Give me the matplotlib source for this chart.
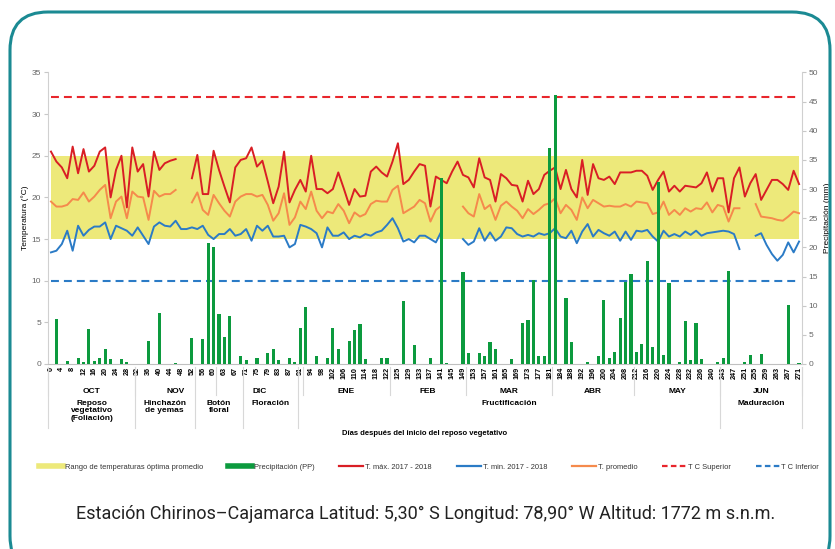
import numpy as np
import matplotlib.pyplot as plt
from matplotlib.lines import Line2D
from matplotlib.patches import FancyBboxPatch

plt.rcParams['font.family'] = ['Liberation Sans', 'DejaVu Sans']

nan = np.nan

# etiquetas del eje x (días después del inicio del reposo vegetativo)
dias = [0, 4, 8, 12, 16, 20, 24, 28, 32, 36, 40, 44, 48, 52, 56, 60, 63, 67, 71, 75,
        79, 83, 87, 91, 94, 98, 102, 106, 110, 114, 118, 122, 125, 129, 133, 137, 141, 145, 149, 153,
        157, 161, 165, 169, 173, 177, 181, 184, 188, 192, 196, 200, 204, 208, 212, 216, 220, 224, 228, 232,
        236, 240, 243, 247, 251, 255, 259, 263, 267, 271]

t_max = [25.5, 24.3, 23.6, 22.3, 26.1, 22.9, 25.8, 23.1, 23.8, 25.5,
         26.0, 20.0, 23.3, 25.0, 18.8, 26.0, 23.1, 24.0, 20.1, 25.5,
         23.3, 24.1, 24.4, 24.6, nan, nan, 22.3, 25.1, 20.4, 20.4,
         25.6, 23.3, 21.3, 19.4, 23.6, 24.5, 24.7, 26.0, 23.7, 24.4,
         21.9, 19.3, 21.3, 25.5, 19.4, 20.9, 22.1, 20.7, 25.0, 21.0,
         21.0, 20.5, 21.0, 23.0, 21.1, 19.1, 21.0, 20.1, 20.2, 23.1,
         23.7, 23.0, 22.5, 24.3, 26.5, 21.6, 22.1, 23.1, 24.0, 23.8,
         18.9, 22.5, 22.1, 21.7, 23.1, 24.3, 22.7, 22.4, 21.2, 24.7,
         22.4, 22.1, 19.5, 22.8, 22.3, 21.5, 21.4, 19.5, 22.0, 20.4,
         21.0, 22.7, 23.2, 23.6, 21.0, 23.3, 21.0, 20.0, 24.5, 20.3,
         24.0, 22.3, 22.1, 22.5, 21.6, 23.0, 23.0, 23.0, 23.2, 23.2,
         22.6, 20.9, 22.1, 23.1, 20.7, 21.4, 20.7, 21.4, 21.3, 21.2,
         21.7, 23.0, 20.7, 22.3, 22.3, 18.2, 22.3, 23.6, 20.1, 21.7,
         22.8, 19.7, 20.9, 22.1, 22.1, 21.6, 20.9, 23.2, 21.6]

t_prom = [19.5, 18.9, 18.9, 19.1, 19.8, 19.7, 20.6, 19.5, 20.1, 20.9,
          21.5, 17.5, 19.5, 20.1, 17.5, 20.7, 20.1, 20.0, 17.3, 20.8,
          20.1, 20.4, 20.4, 20.9, nan, nan, 19.4, 20.6, 18.5, 17.9,
          20.3, 19.3, 18.4, 17.7, 19.5, 20.1, 20.4, 20.4, 20.1, 20.3,
          19.1, 17.2, 18.1, 20.5, 16.7, 17.6, 19.5, 18.6, 20.7, 18.4,
          17.5, 18.3, 18.1, 19.2, 18.4, 16.9, 18.2, 17.7, 18.0, 19.2,
          19.6, 19.5, 19.5, 20.9, 21.4, 18.1, 18.5, 18.9, 19.7, 19.3,
          17.1, 18.5, 19.0, nan, nan, nan, 18.9, 18.1, 17.7, 20.4,
          18.6, 19.1, 17.3, 19.0, 19.5, 18.9, 18.4, 17.5, 18.6, 18.0,
          18.5, 19.1, 19.3, 19.9, 18.1, 19.1, 18.5, 17.3, 20.0, 18.7,
          19.7, 19.3, 18.9, 19.0, 18.9, 18.9, 19.2, 18.9, 19.5, 19.4,
          19.3, 18.0, 18.2, 19.5, 17.9, 18.5, 17.9, 18.7, 18.3, 18.7,
          18.6, 19.4, 18.2, 19.1, 18.9, 17.1, 18.7, 18.7, nan, nan,
          19.2, 17.7, 17.6, 17.5, 17.3, 17.2, 17.7, 18.3, 18.1]

t_min = [13.4, 13.6, 14.4, 16.0, 13.6, 16.6, 15.4, 16.1, 16.5, 16.5,
         17.0, 15.0, 16.6, 16.3, 16.0, 15.4, 16.4, 15.4, 14.4, 16.5,
         17.0, 16.6, 16.5, 17.2, 16.2, 16.2, 16.4, 16.2, 16.6, 15.5,
         15.0, 15.6, 15.6, 16.2, 15.4, 15.6, 16.2, 14.8, 16.6, 16.0,
         16.6, 15.3, 15.3, 15.4, 14.0, 14.4, 16.7, 16.5, 16.2, 15.7,
         14.0, 16.4, 15.4, 15.4, 15.8, 15.0, 15.4, 15.2, 15.6, 15.4,
         15.8, 16.0, 16.7, 17.5, 16.3, 14.7, 15.0, 14.6, 15.4, 15.4,
         15.0, 14.6, 15.9, nan, nan, nan, 15.0, 14.3, 14.7, 16.3,
         14.8, 15.8, 14.8, 15.3, 16.4, 16.3, 15.6, 15.3, 15.5, 15.3,
         15.7, 15.5, 15.7, 16.3, 15.3, 15.1, 16.0, 14.5, 15.9, 16.8,
         15.3, 16.1, 15.7, 15.4, 15.9, 14.8, 15.9, 14.9, 16.0, 15.9,
         16.1, 15.3, 14.7, 16.0, 15.3, 15.6, 15.3, 15.9, 15.5, 16.0,
         15.4, 15.7, 15.8, 15.9, 16.0, 15.9, 15.6, 13.8, nan, nan,
         15.4, 15.7, 14.3, 13.2, 12.4, 13.1, 14.6, 13.4, 14.7]

# precipitación (mm)
pp = [0, 7.8, 0, 0.5, 0, 1.0, 0.3, 6.0, 0.5, 1.1,
      2.5, 0.8, 0, 0.8, 0.3, 0, 0, 0, 3.9, 0,
      8.7, 0, 0, 0.2, 0, 0, 4.4, 0, 4.2, 20.8,
      20.1, 8.5, 4.6, 8.2, 0, 1.4, 0.6, 0, 1.0, 0,
      1.8, 2.6, 0.7, 0, 1.1, 0.4, 6.2, 9.8, 0, 1.3,
      0, 1.0, 6.1, 2.6, 0, 3.9, 5.8, 6.8, 0.9, 0,
      0, 1.1, 1.1, 0, 0, 10.8, 0, 3.3, 0, 0,
      1.1, 0, 31.9, 0.2, 0, 0, 15.7, 1.8, 0, 1.9,
      1.4, 3.8, 2.6, 0, 0, 0.9, 0, 7.1, 7.5, 14.4,
      1.3, 1.4, 37.0, 46.2, 0, 11.4, 3.7, 0, 0, 0.4,
      0, 1.3, 11.0, 1.0, 2.1, 7.9, 14.0, 15.5, 2.1, 3.4,
      17.7, 2.9, 31.2, 1.5, 13.9, 0, 0.4, 7.3, 0.7, 7.0,
      0.8, 0, 0, 0.4, 1.0, 15.9, 0, 0, 0.4, 1.5,
      0, 1.7, 0, 0, 0, 0, 10.1, 0, 0.2]

rango_opt = [15, 25]
tc_sup = 32
tc_inf = 10

meses = ['OCT', 'NOV', 'DIC', 'ENE', 'FEB', 'MAR', 'ABR', 'MAY', 'JUN']
mes_ini = [0, 16, 31, 47, 63, 77, 93, 108, 124]          # índice del primer punto de cada mes
fases = ['Reposo\nvegetativo\n(Foliación)', 'Hinchazón\nde yemas', 'Botón\nfloral',
         'Floración', 'Fructificación', 'Maduración']
fase_ini = [0, 16, 27, 36, 46, 124]

n = len(t_max)
x = np.arange(n)

fig = plt.figure(figsize=(8.35, 5.49), dpi=100)
ax = fig.add_axes([0.0578, 0.337, 0.9024, 0.531])
ax2 = ax.twinx()

ax.fill_between(x, rango_opt[0], rango_opt[1], color='#EDE97A', lw=0, zorder=1)
ax.plot(x, [tc_sup] * n, color='#E8262C', lw=1.5, ls=(0, (3.8, 2.4)), zorder=2)
ax.plot(x, [tc_inf] * n, color='#2B7BC6', lw=1.5, ls=(0, (3.8, 2.4)), zorder=2)
ax.plot(x, t_max, color='#D91E25', lw=1.4, zorder=3)
ax.plot(x, t_prom, color='#F58A4C', lw=1.4, zorder=3)
ax.plot(x, t_min, color='#2B7BC6', lw=1.4, zorder=3)
ax2.bar(x, pp, width=0.58, color='#0C9A3E', zorder=2)

ax.set_xlim(-0.5, n - 0.5)
ax.set_ylim(0, 35)
ax2.set_ylim(0, 50)
ax.set_yticks(range(0, 36, 5))
ax2.set_yticks(range(0, 51, 5))
ax.set_xticks(x[::2])
ax.set_xticklabels(dias, rotation=90, fontsize=5.2, fontweight='bold')

for a in (ax, ax2):
    a.spines['top'].set_visible(False)
ax.spines['left'].set_color('#d0d0d0')
ax.spines['bottom'].set_color('#c0c0c0')
ax.spines['right'].set_visible(False)
ax2.spines['left'].set_visible(False)
ax2.spines['bottom'].set_visible(False)
ax2.spines['right'].set_color('#d0d0d0')
ax.tick_params(axis='y', length=3, color='#c8c8c8', labelsize=6, labelcolor='#666666', pad=2)
ax2.tick_params(axis='y', length=3, color='#c8c8c8', labelsize=6, labelcolor='#666666', pad=2)
ax.tick_params(axis='x', length=0, pad=2)
ax.set_ylabel('Temperatura (°C)', fontsize=6, labelpad=2)
ax2.set_ylabel('Precipitación (mm)', fontsize=6, labelpad=4)

# tabla inferior: meses y fases fenológicas
tr = ax.get_xaxis_transform()
sep = '#d8d8d8'
bordes_mes = [i - 0.5 for i in mes_ini] + [n - 0.5]
for k, m in enumerate(meses):
    ax.text((bordes_mes[k] + bordes_mes[k + 1]) / 2, -0.095, m, transform=tr,
            ha='center', va='center', fontsize=6, fontweight='bold')
for b in bordes_mes:
    ax.plot([b, b], [-0.01, -0.108], transform=tr, color=sep, lw=0.8, clip_on=False)
bordes_fase = [i - 0.5 for i in fase_ini] + [n - 0.5]
for k, f in enumerate(fases):
    ax.text((bordes_fase[k] + bordes_fase[k + 1]) / 2, -0.122, f, transform=tr,
            ha='center', va='top', fontsize=6, fontweight='bold', linespacing=1.15)
for b in bordes_fase:
    ax.plot([b, b], [-0.01, -0.219], transform=tr, color=sep, lw=0.8, clip_on=False)
ax.text(0.5, -0.24, 'Días después del inicio del reposo vegetativo', transform=ax.transAxes,
        ha='center', va='center', fontsize=5.5, fontweight='bold')

# leyenda
handles = [Line2D([], [], color='#EDE97A', lw=4),
           Line2D([], [], color='#0C9A3E', lw=4),
           Line2D([], [], color='#D91E25', lw=1.6),
           Line2D([], [], color='#2B7BC6', lw=1.6),
           Line2D([], [], color='#F58A4C', lw=1.6),
           Line2D([], [], color='#E8262C', lw=1.6, ls=(0, (2.5, 1.5))),
           Line2D([], [], color='#2B7BC6', lw=1.6, ls=(0, (2.5, 1.5)))]
labels = ['Rango de temperaturas óptima promedio', 'Precipitación (PP)', 'T. máx. 2017 - 2018',
          'T. min. 2017 - 2018', 'T. promedio', 'T C Superior', 'T C Inferior']
leg = fig.legend(handles, labels, loc='center', bbox_to_anchor=(0.514, 1 - 467 / 549), ncol=7,
                 frameon=False, fontsize=5.4, handlelength=3.2, handletextpad=0.25,
                 columnspacing=3.3)
for t in leg.get_texts():
    t.set_color('#333333')

fig.text(0.51, 1 - 514 / 549,
         'Estación Chirinos–Cajamarca Latitud: 5,30° S Longitud: 78,90° W Altitud: 1772 m s.n.m.',
         ha='center', va='center', fontsize=13, color='#222222',
         family=['Roboto', 'DejaVu Sans'])

marco = FancyBboxPatch((0.1, -0.25), 8.2, 5.62, boxstyle='round,pad=0,rounding_size=0.38',
                       transform=fig.dpi_scale_trans, fill=False, edgecolor='#1B8A93', lw=2.2)
fig.patches.append(marco)

fig.savefig('out.png', dpi=100)
